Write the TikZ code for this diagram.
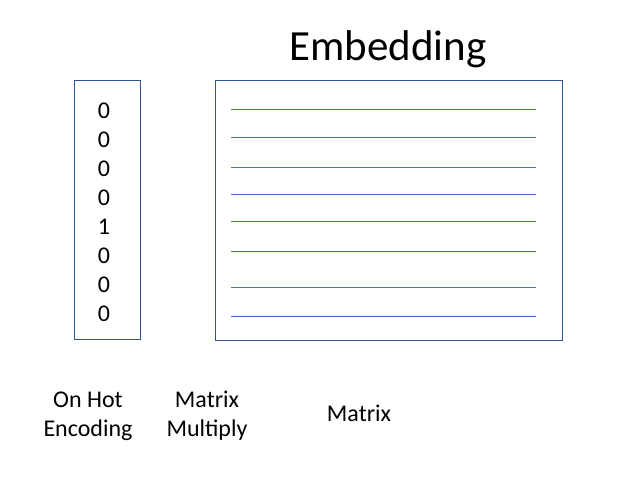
\documentclass[tikz,border=0pt]{standalone}
\usepackage{fontspec}
\setmainfont{Carlito}
\begin{document}
\begin{tikzpicture}[x=1pt,y=-1pt,
  boxframe/.style={draw=framecol,line width=1.2pt,inner sep=0pt},
  rowline/.style={draw=rowcol,line width=1.2pt},
  label/.style={font=\fontsize{24}{29}\selectfont,anchor=base,align=center,inner sep=0pt},
  digit/.style={font=\fontsize{24}{29}\selectfont,anchor=base,inner sep=0pt}]
\definecolor{framecol}{HTML}{2F5597}
\definecolor{rowcol}{HTML}{4472C4}
\useasboundingbox (0,0) rectangle (622,480);

% title
\node[font=\fontsize{43}{50}\selectfont,anchor=base,inner sep=0pt] (title) at (388,60) {Embedding};

% one-hot vector
\draw[boxframe] (74.3,80.3) rectangle (140.3,339.8);
\node[boxframe,draw=none,minimum width=66pt,minimum height=259.5pt] (onehot) at (107.3,210) {};
\foreach \v [count=\i from 0] in {0,0,0,0,1,0,0,0}
  \node[digit] (d\i) at (104,118.5+29*\i) {\v};

% embedding matrix with its rows
\draw[boxframe] (215.3,80.3) rectangle (562.3,340.3);
\node[draw=none,minimum width=347pt,minimum height=260pt] (embed) at (388.8,210.3) {};
\foreach \y [count=\i] in {109.3,137.3,167.3,194.3,221.3,251.3,287.3,316.3}
  \draw[rowline] (231,\y) -- (536,\y);

% captions (base anchor sits on the last line)
\node[label] (cap1) at (88,436) {On Hot\\Encoding};
\node[label] (cap2) at (207,436) {Matrix\\Multiply};
\node[label] (cap3) at (359,421) {Matrix};
\end{tikzpicture}
\end{document}
